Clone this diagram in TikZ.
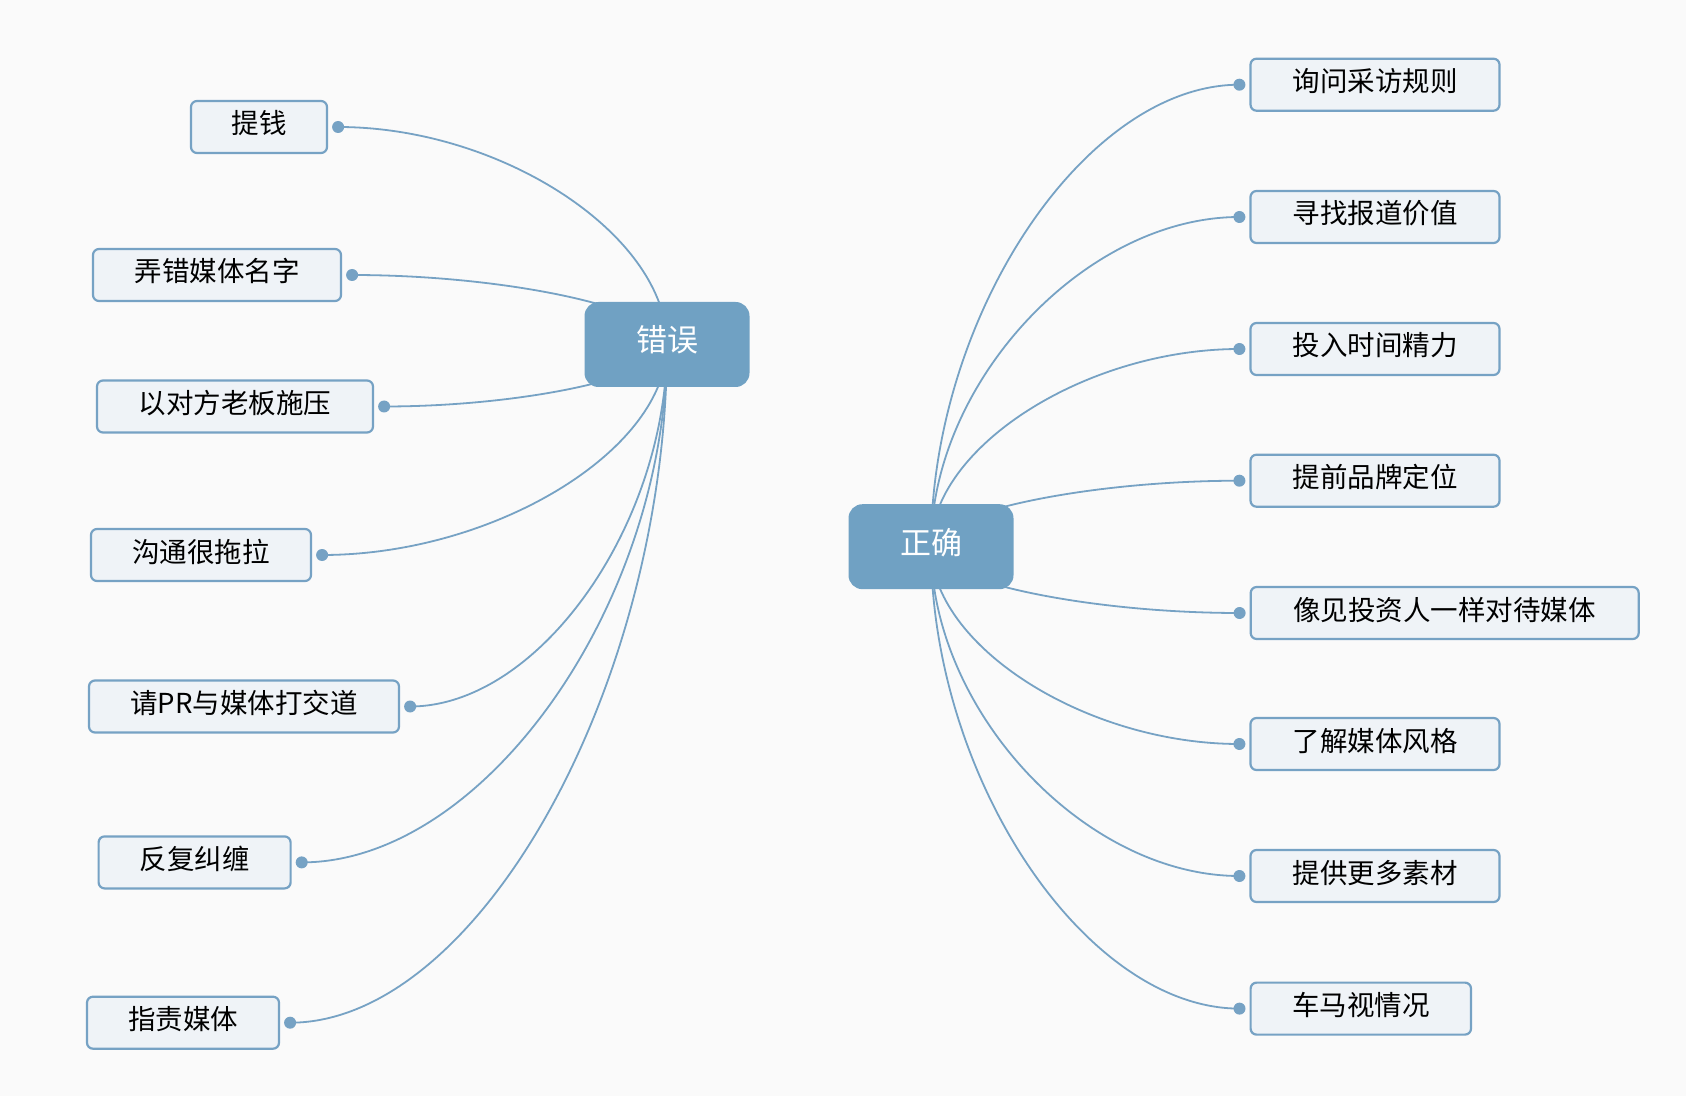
\documentclass[tikz,border=0pt]{standalone}
\usepackage{fontspec}
\newfontfamily\cjk{Noto Sans CJK SC}
\usetikzlibrary{calc}
\pgfdeclarelayer{bglayer}
\pgfdeclarelayer{edgelayer}
\pgfsetlayers{bglayer,edgelayer,main}
\definecolor{bgcol}{RGB}{250,250,250}
\definecolor{hubblue}{RGB}{112,161,195}
\definecolor{lineblue}{RGB}{118,162,196}
\definecolor{leaffill}{RGB}{239,243,247}
\tikzset{
  leaf/.style={draw=lineblue, fill=leaffill, rounded corners=3pt, line width=1.1pt,
    minimum height=26pt, inner sep=0pt, text=black, text height=11.5pt, text depth=4.5pt,
    font=\cjk\fontsize{13.75}{16}\selectfont},
  hub/.style={fill=hubblue, rounded corners=7pt, minimum width=82.5pt, minimum height=42.5pt,
    inner sep=0pt, text=white, text height=13pt, text depth=5.5pt,
    font=\cjk\fontsize{15.5}{18}\selectfont},
  conn/.style={draw=lineblue, line width=0.9pt},
  dotmark/.style={circle, fill=lineblue, inner sep=0pt, minimum size=6pt}
}
\begin{document}
\begin{tikzpicture}[x=0.5pt,y=-0.5pt]
\begin{pgfonlayer}{bglayer}
\fill[bgcol] (0,0) rectangle (1686,1096);
\end{pgfonlayer}
\useasboundingbox (0,0) rectangle (1686,1096);
% hubs
\node[hub] (cw) at (667,344.5) {错误};
\node[hub] (zq) at (931,546.7) {正确};
% left leaves
\node[leaf, minimum width=68pt]  (l1) at (259,127)   {提钱};
\node[leaf, minimum width=124pt] (l2) at (217,275)   {弄错媒体名字};
\node[leaf, minimum width=138pt] (l3) at (235,406.5) {以对方老板施压};
\node[leaf, minimum width=110pt] (l4) at (201,555)   {沟通很拖拉};
\node[leaf, minimum width=155pt] (l5) at (244,706.5) {请PR与媒体打交道};
\node[leaf, minimum width=96pt]  (l6) at (194.6,862.4) {反复纠缠};
\node[leaf, minimum width=96pt]  (l7) at (183,1022.7) {指责媒体};
% right leaves
\node[leaf, minimum width=124.5pt] (r1) at (1375,84.7)  {询问采访规则};
\node[leaf, minimum width=124.5pt] (r2) at (1375,217)   {寻找报道价值};
\node[leaf, minimum width=124.5pt] (r3) at (1375,349)   {投入时间精力};
\node[leaf, minimum width=124.5pt] (r4) at (1375,480.7) {提前品牌定位};
\node[leaf, minimum width=194pt]   (r5) at (1444.7,613) {像见投资人一样对待媒体};
\node[leaf, minimum width=124.5pt] (r6) at (1375,744)   {了解媒体风格};
\node[leaf, minimum width=124.5pt] (r7) at (1375,876)   {提供更多素材};
\node[leaf, minimum width=110.2pt] (r8) at (1360.8,1008.6) {车马视情况};
% dots
\foreach \i in {1,...,7}{
  \node[dotmark] (dl\i) at ([xshift=5pt]l\i.east) {};
}
\foreach \i in {1,...,8}{
  \node[dotmark] (dr\i) at ([xshift=-5pt]r\i.west) {};
}
% connectors
\begin{pgfonlayer}{edgelayer}
\foreach \i in {1,...,7}{
  \draw[conn] (cw.center) .. controls ($(cw.center)!0.5!(cw.center |- dl\i.center)$)
     and ($(dl\i.center)!0.5!(dl\i.center -| cw.center)$) .. (dl\i.center);
}
\foreach \i in {1,...,8}{
  \draw[conn] (zq.center) .. controls ($(zq.center)!0.5!(zq.center |- dr\i.center)$)
     and ($(dr\i.center)!0.5!(dr\i.center -| zq.center)$) .. (dr\i.center);
}
\end{pgfonlayer}
\end{tikzpicture}
\end{document}
